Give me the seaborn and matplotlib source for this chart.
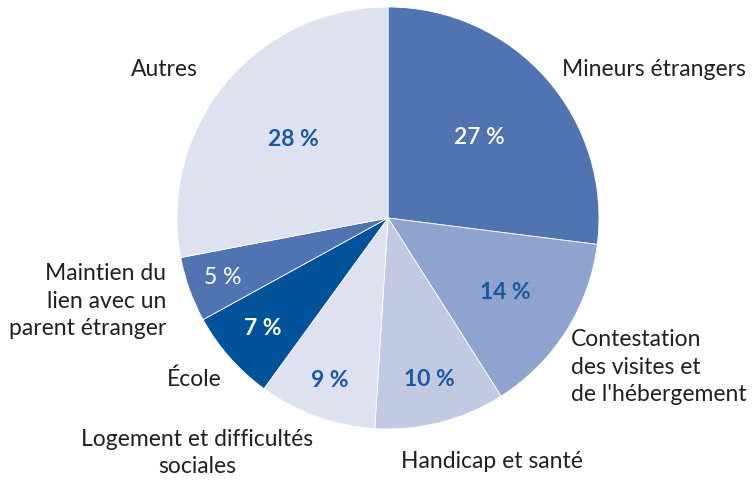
import matplotlib
matplotlib.use("Agg")
import matplotlib.pyplot as plt
import seaborn as sns
import numpy as np

categories = ["Mineurs étrangers", "Contestation\ndes visites et\nde l'hébergement",
              "Handicap et santé", "Logement et difficultés\nsociales", "École",
              "Maintien du\nlien avec un\nparent étranger", "Autres"]
values = [27, 14, 10, 9, 7, 5, 28]
pct_labels = ["27 %", "14 %", "10 %", "9 %", "7 %", "5 %", "28 %"]

colors = ["#5073b1", "#8fa3cf", "#c1c9e3", "#dde1f0", "#00529b", "#5073b1", "#dde1f0"]
pct_colors = ["white", "#1a59a2", "#1a59a2", "#1a59a2", "white", "white", "#1a59a2"]
pct_weights = ["semibold", "bold", "bold", "bold", "bold", "normal", "bold"]
pct_dist = [0.58, 0.66, 0.79, 0.82, 0.79, 0.83, 0.58]
# label placements in pixel coordinates (x, y from top), alignment
label_pos = [(562, 70, "left"), (571, 367, "left"), (401, 462, "left"),
             (197, 453, "center"), (222, 379, "right"), (166, 301, "right"),
             (198, 70, "right")]

sns.set_theme(style="white")
plt.rcParams["font.family"] = ["Lato", "DejaVu Sans"]

W, H = 756, 484
fig = plt.figure(figsize=(W / 100, H / 100), dpi=100)
ax = fig.add_axes([0, 0, 1, 1])

cx, cy, r = 388, H - 218, 211
wedges, _ = ax.pie(values, colors=colors, startangle=90, counterclock=False,
                   center=(cx, cy), radius=r,
                   wedgeprops=dict(edgecolor="white", linewidth=0.6))
ax.set_xlim(0, W)
ax.set_ylim(0, H)
ax.set_aspect("equal")
ax.axis("off")

for w, lab, col, wt, d in zip(wedges, pct_labels, pct_colors, pct_weights, pct_dist):
    ang = np.deg2rad((w.theta1 + w.theta2) / 2)
    ax.text(cx + d * r * np.cos(ang), cy + d * r * np.sin(ang), lab,
            ha="center", va="center", color=col, fontsize=16.5, fontweight=wt)

for lab, (x, y, ha) in zip(categories, label_pos):
    ax.text(x, H - y, lab, ha=ha, va="center", color="#231f20", fontsize=16.5,
            linespacing=1.38, multialignment=ha)

fig.savefig("out.png", dpi=100, facecolor="white")
